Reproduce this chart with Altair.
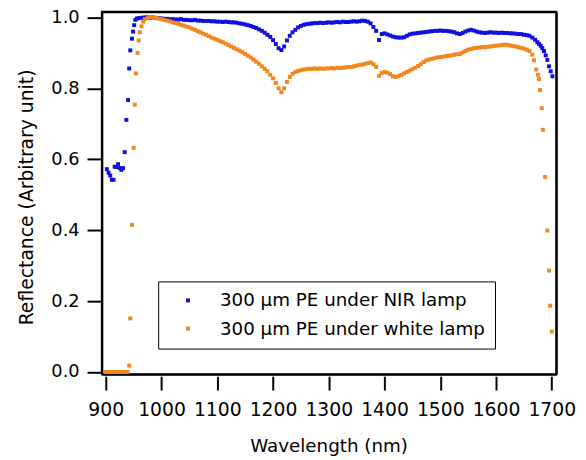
import altair as alt
import pandas as pd

NIR = "300 μm PE under NIR lamp"
WHITE = "300 μm PE under white lamp"
series_names = [NIR, WHITE]
series_colors = ["#1010e0", "#f3861d"]

x_ticks = [900, 1000, 1100, 1200, 1300, 1400, 1500, 1600, 1700]
y_ticks = [0.0, 0.2, 0.4, 0.6, 0.8, 1.0]

# ---- NIR lamp (blue) ----
nir_edge_wl = [902, 905, 908, 911, 914, 916, 919, 922, 925, 928, 931, 934, 937, 940,
               942, 944, 947, 949, 951, 953, 956]
nir_edge_r = [0.572, 0.562, 0.554, 0.542, 0.542, 0.579, 0.578, 0.586, 0.575, 0.570,
              0.575, 0.620, 0.711, 0.767, 0.856, 0.907, 0.940, 0.960, 0.978, 0.993, 0.997]
nir_grid_wl = list(range(960, 1671, 5))
nir_grid_r = [
    0.998, 0.999, 1.000, 1.000, 0.999, 1.000, 0.998, 0.998, 0.997, 0.996,
    0.996, 0.995, 0.995, 0.994, 0.994, 0.995, 0.993, 0.993, 0.992, 0.992,
    0.993, 0.991, 0.991, 0.990, 0.990, 0.990, 0.989, 0.989, 0.988, 0.988,
    0.987, 0.988, 0.987, 0.986, 0.986, 0.985, 0.983, 0.982, 0.980, 0.978,
    0.976, 0.973, 0.970, 0.966, 0.962, 0.957, 0.951, 0.945, 0.936, 0.925,
    0.913, 0.908, 0.918, 0.935, 0.948, 0.958, 0.965, 0.972, 0.976, 0.979,
    0.981, 0.982, 0.983, 0.984, 0.984, 0.985, 0.984, 0.985, 0.986, 0.985,
    0.986, 0.987, 0.986, 0.988, 0.987, 0.987, 0.988, 0.989, 0.988, 0.989,
    0.991, 0.990, 0.988, 0.983, 0.973, 0.962, 0.936, 0.953, 0.955, 0.952,
    0.949, 0.946, 0.944, 0.943, 0.943, 0.944, 0.948, 0.952, 0.954, 0.955,
    0.956, 0.957, 0.958, 0.959, 0.960, 0.961, 0.962, 0.962, 0.963, 0.962,
    0.962, 0.961, 0.960, 0.958, 0.955, 0.953, 0.956, 0.960, 0.963, 0.965,
    0.963, 0.960, 0.958, 0.957, 0.956, 0.957, 0.958, 0.957, 0.957, 0.956,
    0.957, 0.956, 0.956, 0.955, 0.955, 0.954, 0.953, 0.953, 0.951, 0.950,
    0.948, 0.943, 0.937,
]
nir_tail_wl = [1674, 1677, 1680, 1683, 1686, 1689, 1692, 1695, 1698, 1701]
nir_tail_r = [0.930, 0.925, 0.920, 0.913, 0.905, 0.893, 0.880, 0.862, 0.848, 0.834]

# ---- white lamp (orange) ----
white_edge_wl = [900, 903, 906, 909, 912, 915, 918, 921, 924, 927, 930, 933, 936, 939,
                 942, 944, 947, 950, 952, 954, 957, 959, 961, 964, 967, 970, 975, 980,
                 985, 990, 995]
white_edge_r = [0.0, 0.0, 0.0, 0.0, 0.0, 0.0, 0.0, 0.0, 0.0, 0.0, 0.0, 0.0, 0.0, 0.0,
                0.018, 0.151, 0.415, 0.632, 0.754, 0.842, 0.900, 0.935, 0.958, 0.975,
                0.988, 0.995, 0.998, 1.000, 1.000, 0.999, 0.997]
white_grid_wl = list(range(1000, 1666, 5))
white_grid_r = [
    0.995, 0.993, 0.991, 0.989, 0.986, 0.984, 0.982, 0.979, 0.977, 0.974,
    0.972, 0.968, 0.965, 0.961, 0.958, 0.954, 0.951, 0.947, 0.943, 0.940,
    0.937, 0.933, 0.930, 0.926, 0.922, 0.918, 0.914, 0.910, 0.906, 0.902,
    0.897, 0.892, 0.887, 0.881, 0.875, 0.869, 0.862, 0.855, 0.848, 0.838,
    0.828, 0.815, 0.800, 0.789, 0.800, 0.818, 0.832, 0.841, 0.846, 0.849,
    0.851, 0.853, 0.854, 0.855, 0.855, 0.856, 0.855, 0.856, 0.855, 0.856,
    0.856, 0.857, 0.856, 0.858, 0.857, 0.858, 0.859, 0.860, 0.860, 0.862,
    0.864, 0.866, 0.867, 0.869, 0.871, 0.873, 0.868, 0.860, 0.835, 0.843,
    0.846, 0.844, 0.840, 0.834, 0.832, 0.834, 0.838, 0.842, 0.846, 0.850,
    0.854, 0.858, 0.863, 0.868, 0.874, 0.879, 0.881, 0.883, 0.885, 0.887,
    0.888, 0.889, 0.891, 0.892, 0.893, 0.895, 0.896, 0.897, 0.901, 0.905,
    0.909, 0.911, 0.913, 0.914, 0.915, 0.916, 0.916, 0.917, 0.918, 0.919,
    0.920, 0.921, 0.922, 0.923, 0.923, 0.921, 0.919, 0.918, 0.916, 0.914,
    0.912, 0.909, 0.905, 0.895,
]
white_tail_wl = [1668, 1672, 1675, 1677, 1679, 1682, 1684, 1688, 1692, 1695, 1697, 1700]
white_tail_r = [0.879, 0.853, 0.838, 0.826, 0.795, 0.744, 0.683, 0.550, 0.399, 0.286,
                0.187, 0.114]

rows = []
for wl, r in zip(nir_edge_wl + nir_grid_wl + nir_tail_wl,
                 nir_edge_r + nir_grid_r + nir_tail_r):
    rows.append({"wl": wl, "r": r, "series": NIR, "z": 0})
for wl, r in zip(white_edge_wl + white_grid_wl + white_tail_wl,
                 white_edge_r + white_grid_r + white_tail_r):
    rows.append({"wl": wl, "r": r, "series": WHITE, "z": 1})
df = pd.DataFrame(rows)

FONT = "DejaVu Sans"
x_scale = alt.Scale(domain=[893, 1708], nice=False, zero=False)
y_scale = alt.Scale(domain=[-0.0064, 1.016], nice=False, zero=False)

points = alt.Chart(df).mark_square(size=16, opacity=1, filled=True, strokeWidth=0).encode(
    x=alt.X("wl:Q", scale=x_scale,
            axis=alt.Axis(values=x_ticks, format="d", title="Wavelength (nm)",
                          orient="bottom", offset=2, domain=False, grid=False,
                          tickSize=14, tickWidth=2, tickColor="black",
                          labelFontSize=19, labelPadding=11, labelColor="black",
                          labelFont=FONT, labelOverlap=False, labelFlush=False,
                          titleFont=FONT, titleFontSize=18.5, titleFontWeight="normal",
                          titleColor="black", titleX=229.5, titleY=76,
                          titleBaseline="alphabetic", titleAlign="center")),
    y=alt.Y("r:Q", scale=y_scale,
            axis=alt.Axis(values=y_ticks, format=".1f", title="Reflectance (Arbitrary unit)",
                          orient="left", domain=True, domainColor="black", domainWidth=2,
                          grid=False,
                          tickSize=15, tickWidth=2, tickColor="black",
                          labelFontSize=18, labelPadding=8, labelColor="black",
                          labelFont=FONT, labelOverlap=False, labelFlush=False,
                          titleFont=FONT, titleFontSize=19, titleFontWeight="normal",
                          titleColor="black", titleX=-76, titleY=187.5,
                          titleBaseline="middle", titleAlign="center", titleAngle=-90)),
    color=alt.Color("series:N",
                    scale=alt.Scale(domain=series_names, range=series_colors),
                    legend=alt.Legend(orient="none", legendX=57, legendY=273, title=None,
                                      strokeColor="black", fillColor="white", padding=10,
                                      symbolType="square", symbolSize=16,
                                      symbolStrokeWidth=0, symbolOffset=11,
                                      labelOffset=23, rowPadding=9.5, labelLimit=500,
                                      labelFont=FONT, labelFontSize=18.5,
                                      labelColor="black")),
    order=alt.Order("z:Q"),
)

# frame: top / right edges
frame_tr = alt.Chart(df).mark_square(size=1, opacity=0).encode(
    x=alt.X("wl:Q", scale=x_scale,
            axis=alt.Axis(orient="top", labels=False, ticks=False, title=None, grid=False,
                          domain=True, domainColor="black", domainWidth=2)),
    y=alt.Y("r:Q", scale=y_scale,
            axis=alt.Axis(orient="right", labels=False, ticks=False, title=None, grid=False,
                          domain=True, domainColor="black", domainWidth=2)),
)

# frame: bottom edge
frame_b = alt.Chart(df).mark_square(size=1, opacity=0).encode(
    x=alt.X("wl:Q", scale=x_scale,
            axis=alt.Axis(orient="bottom", offset=0, labels=False, ticks=False, title=None,
                          grid=False, domain=True, domainColor="black", domainWidth=2)),
    y=alt.Y("r:Q", scale=y_scale, axis=None),
)

chart = alt.layer(points, frame_tr, frame_b).resolve_axis(
    x="independent", y="independent"
).properties(
    width=460, height=367,
    autosize=alt.AutoSizeParams(type="none"),
    padding={"left": 95, "top": 1, "right": 22, "bottom": 82},
).configure(font=FONT, background="white").configure_view(stroke="black", strokeWidth=2)

chart.save("out.html", embed_options={"renderer": "svg", "actions": False})
